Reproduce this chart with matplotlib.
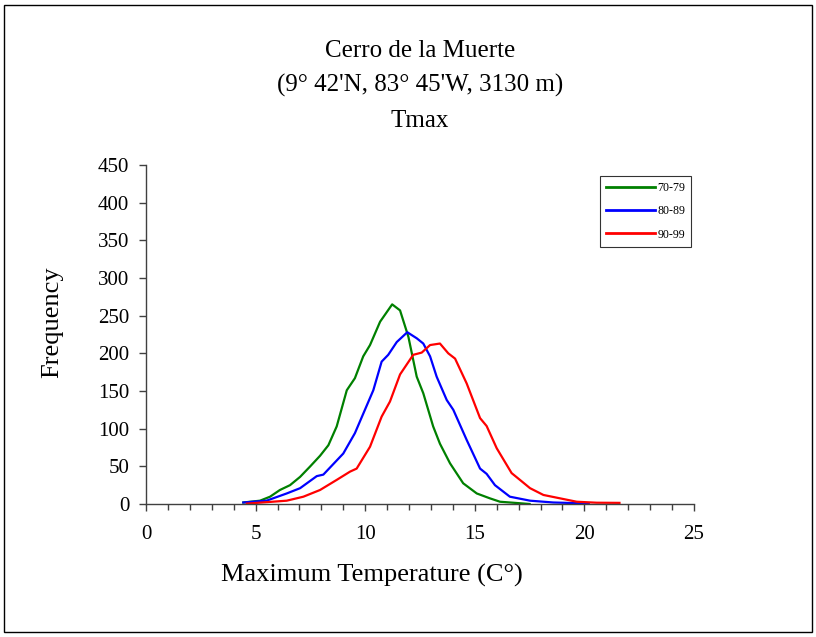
import matplotlib
matplotlib.use("Agg")
import matplotlib.pyplot as plt
from matplotlib.patches import Rectangle
from matplotlib.ticker import MultipleLocator

plt.rcParams['font.family'] = ['Liberation Serif', 'DejaVu Serif']

# Data
x_7079 = [4.44, 5.2, 5.66, 6.11, 6.57, 7.03, 7.48, 7.94, 8.32, 8.7, 9.16, 9.53, 9.91, 10.22,
          10.68, 11.23, 11.59, 11.97, 12.35, 12.65, 13.1, 13.41, 13.87, 14.47, 15.09, 15.69,
          16.15, 17.06, 17.5]
y_7079 = [2, 4.4, 9.7, 18.6, 25, 36, 49.6, 64, 78, 103, 151, 167, 196, 211,
          242, 265, 257, 222, 169, 147, 103, 80, 54, 27.5, 14, 7.5,
          3, 1, 0]

x_8089 = [4.44, 5.5, 6.42, 7.03, 7.79, 8.09, 9.0, 9.53, 10.37, 10.75, 11.05, 11.44, 11.92,
          12.35, 12.65, 12.96, 13.26, 13.72, 14.02, 14.63, 15.24, 15.54, 15.92, 16.6,
          17.52, 18.58, 19.8, 20.2]
y_8089 = [2, 4.4, 14, 21, 37, 39, 67, 94, 151, 189, 198, 215, 228,
          220, 213, 196, 169, 138, 125, 85, 47, 40, 25, 9.7,
          4.4, 2, 1, 0.5]

x_9099 = [4.6, 6.42, 7.18, 7.94, 8.7, 9.31, 9.61, 10.22, 10.75, 11.13, 11.59, 12.19, 12.58,
          12.96, 13.41, 13.79, 14.1, 14.63, 15.24, 15.54, 16.0, 16.68, 17.06, 17.52,
          18.13, 18.89, 19.65, 20.56, 21.6]
y_9099 = [0.5, 4.4, 9.7, 18.6, 32, 43, 47, 76, 116, 136, 172, 198, 201,
          211, 213, 200, 193, 160, 114, 103.5, 74, 41, 32, 21,
          12, 7.5, 3, 1.7, 1.5]

series_labels = ['70-79', '80-89', '90-99']
colors = ['#008000', '#0000ff', '#ff0000']
title_lines = ['Cerro de la Muerte', "(9° 42'N, 83° 45'W, 3130 m)", 'Tmax']

W, H = 816, 637
fig = plt.figure(figsize=(W/100, H/100), dpi=100)
ax = fig.add_axes([146/W, 1-504/H, 548/W, 339/H])

for xs, ys, lab, c in zip([x_7079, x_8089, x_9099], [y_7079, y_8089, y_9099], series_labels, colors):
    ax.plot(xs, ys, color=c, lw=1.6, label=lab)

ax.set_xlim(0, 25)
ax.set_ylim(0, 450)
ax.xaxis.set_major_locator(MultipleLocator(5))
ax.xaxis.set_minor_locator(MultipleLocator(1))
ax.yaxis.set_major_locator(MultipleLocator(50))
for s in ['top', 'right']:
    ax.spines[s].set_visible(False)
for s in ['left', 'bottom']:
    ax.spines[s].set_color('#404040')
    ax.spines[s].set_linewidth(1.0)
ax.tick_params(axis='both', which='major', length=5, width=1, color='#404040', labelsize=15)
ax.tick_params(axis='y', which='major', pad=7)
ax.tick_params(axis='x', which='minor', length=4, width=1, color='#404040')
ax.tick_params(axis='x', which='major', pad=10)

fig.text(372/W, 1-582/H, 'Maximum Temperature (C°)', ha='center', va='baseline', fontsize=19)
fig.text(52/W, 1-322/H, 'Frequency', ha='center', va='center', rotation=90, fontsize=19)

leg = ax.legend(loc='upper right', bbox_to_anchor=(0.9945, 0.9676), borderaxespad=0, fontsize=8.6,
                frameon=True, fancybox=False, handlelength=4.1, labelspacing=0.95,
                handletextpad=0.15, borderpad=0.5)
leg.get_frame().set_edgecolor('black')
leg.get_frame().set_linewidth(0.8)
for line in leg.get_lines():
    line.set_linewidth(2)

for txt, yb in zip(title_lines, [57, 92, 127]):
    fig.text(420/W, 1-yb/H, txt, ha='center', va='baseline', fontsize=18)

fig.add_artist(Rectangle((4/W, 5/H), 808/W, 627/H, transform=fig.transFigure,
                         fill=False, edgecolor='black', lw=1))

fig.savefig('out.png', dpi=100)
